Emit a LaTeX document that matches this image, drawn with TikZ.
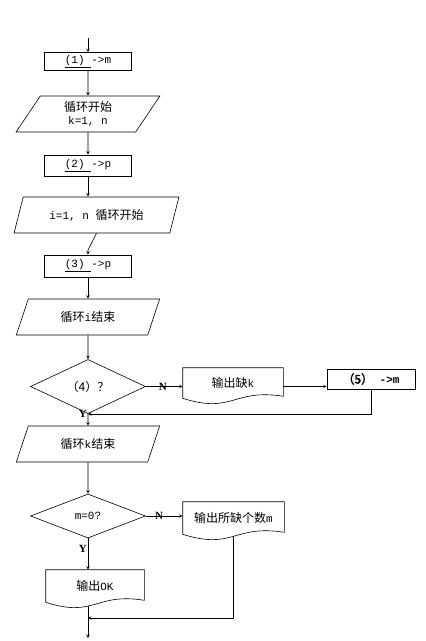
\documentclass[tikz,border=0pt]{standalone}
\usepackage{fontspec}
\setmainfont{Liberation Mono}
\newfontfamily\cjk[AutoFakeBold=2]{Noto Sans CJK SC}
\newfontfamily\ynfont{Liberation Serif}
\newcommand{\zh}[1]{{\cjk\fontsize{12}{14}\selectfont #1}}
\usetikzlibrary{shapes,shapes.geometric,arrows,calc,positioning}

\begin{document}
\begin{tikzpicture}[%
>=stealth,
x=1pt, y=-1pt,
line width=0.6pt,
font=\fontsize{11}{13}\selectfont,
box/.style={draw, rectangle, inner sep=0pt, minimum width=87pt, minimum height=20pt},
loopbox/.style={draw, trapezium, trapezium left angle=64, trapezium right angle=116,
  trapezium stretches=true, inner sep=0pt, minimum width=144pt, minimum height=36pt, align=center},
testbox/.style={draw, diamond, inner sep=0pt, minimum width=115pt, minimum height=44pt},
outbox/.style={rectangle, inner sep=0pt, minimum width=100pt, minimum height=32pt},
yn/.style={font=\ynfont\bfseries\fontsize{11}{13}\selectfont, inner sep=1pt}
]
\useasboundingbox (0,0) rectangle (426,641);

\coordinate (start) at (88,38);
\node[box, minimum height=18pt] (b1) at (88,61.5) {\underline{(1)\ }->m};
\node[loopbox] (p1) at (88,114) {\zh{循环开始}\\k=1, n};
\node[box, minimum height=21pt] (b2) at (88,165.5) {\underline{(2)\ }->p};
\node[loopbox, minimum width=165pt] (p2) at (96.5,215) {i=1, n \zh{循环开始}};
\coordinate (bend) at (88,250);
\node[box, minimum height=22pt] (b3) at (88,266) {\underline{(3)\ }->p};
\node[loopbox] (p3) at (88,317) {\zh{循环}i\zh{结束}};
\node[testbox, minimum height=43pt] (d4) at (88,386.5) {\zh{（4）？}};
\node[outbox, minimum height=30pt] (out1) at (233,383) {\zh{输出缺}k};
\node[box, minimum width=88pt] (b5) at (371,379) {\zh{\bfseries （5）} \textbf{->m}};
\coordinate (join1) at (88,414);
\node[loopbox] (p4) at (88,444) {\zh{循环}k\zh{结束}};
\node[testbox] (d6) at (88,516) {m=0?};
\node[outbox, minimum width=101pt] (out2) at (233.5,518) {\zh{输出所缺个数}m};
\node[outbox, minimum width=98pt] (out3) at (95,586) {\zh{输出}OK};
\coordinate (join2) at (88,618);
\coordinate (stop) at (88,638);

% document outlines
\foreach \d in {out1,out2,out3}
  \draw (\d.south west) -- (\d.north west) -- (\d.north east) -- ([yshift=2pt]\d.south east)
    .. controls ([yshift=10pt]\d.south) and ([yshift=-16pt]\d.south) .. (\d.south west);
\coordinate (o2) at ([yshift=-2pt]out2.south);
\coordinate (o3) at ([yshift=-4pt]out3.south);

% main column
\draw[->] (start) -- (b1);
\draw[->] (b1) -- (p1);
\draw[->] (p1) -- (b2);
\draw[->] (b2.south) -- (b2.south |- p2.north);
\draw[->] (p2.south) -- (bend) -- (b3.north);
\draw[->] (b3) -- (p3);
\draw[->] (p3) -- (d4);
\draw[->] (d4.south) -- (p4.north);
\draw[->] (p4) -- (d6);
\draw[->] (d6.south) -- node[yn, left, pos=0.35] {Y} (d6.south |- out3.north);
\draw[->] (o3 -| d6.south) -- (stop);

% side branches
\draw[->] (d4.east) -- node[yn, pos=0.46] {N} (out1.west |- d4.east);
\draw[->] (out1.east |- d4.east) -- (b5.west |- d4.east);
\draw[->] (b5.south) -- (b5.south |- join1) -- (join1);
\node[yn, anchor=east] (y1) at (join1) {Y};
\draw[->] (d6.east) -- node[yn, pos=0.36] {N} (out2.west |- d6.east);
\draw[->] (o2) -- (o2 |- join2) -- (join2);

\end{tikzpicture}
\end{document}
